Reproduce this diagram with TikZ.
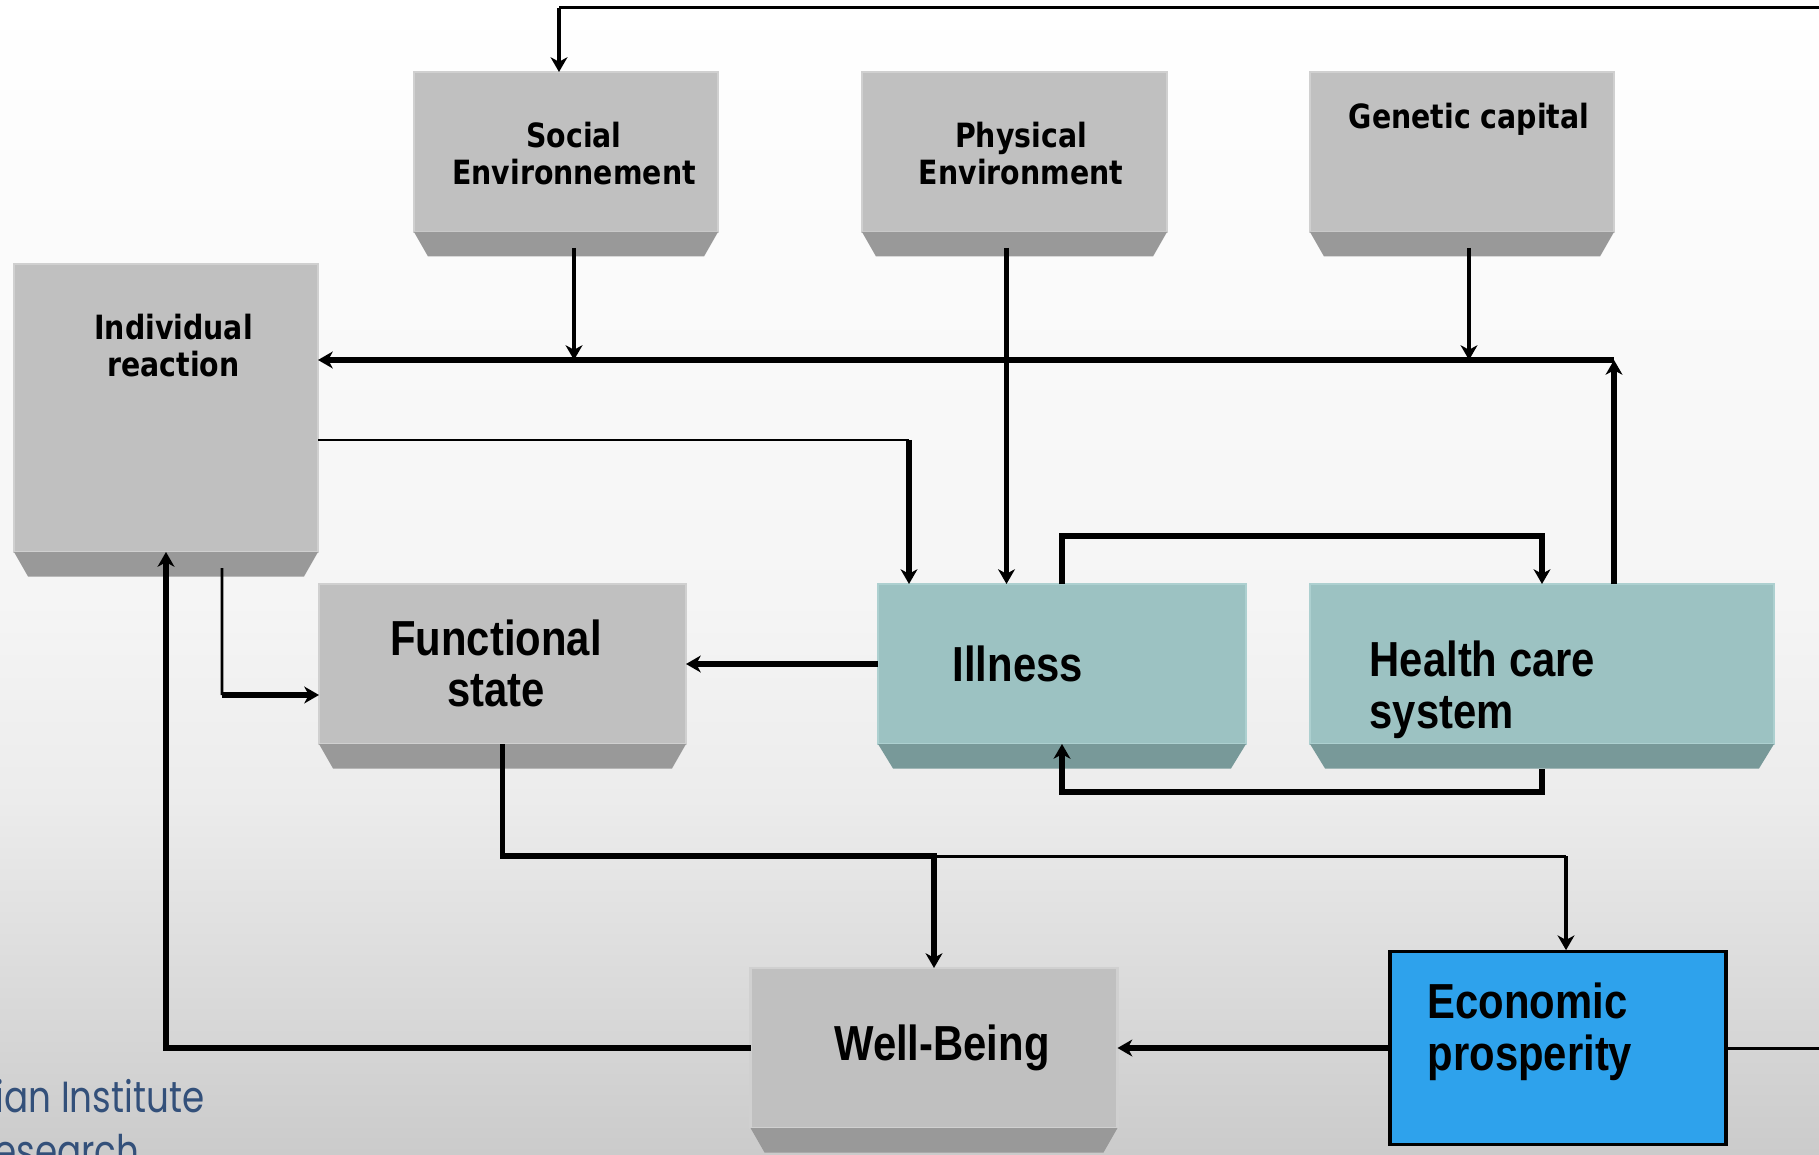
\documentclass[tikz,border=0pt]{standalone}
\usepackage{fontspec}
\newfontfamily\topfont[FakeStretch=0.85]{DejaVu Sans}
\newfontfamily\lowfont[FakeStretch=0.85]{Liberation Sans}
\newfontfamily\markfont[FakeStretch=0.82]{Poppins}
\usetikzlibrary{arrows.meta, positioning}
\definecolor{facegray}{HTML}{C0C0C0}
\definecolor{bevelgray}{HTML}{999999}
\definecolor{edgegray}{HTML}{D0D0D0}
\definecolor{faceteal}{HTML}{9CC2C2}
\definecolor{bevelteal}{HTML}{789999}
\definecolor{edgeteal}{HTML}{ADD0D0}
\definecolor{econblue}{HTML}{2EA2EC}
\definecolor{markblue}{HTML}{33507A}
\definecolor{bgA}{HTML}{F5F5F5}
\definecolor{bgB}{HTML}{ECECEC}
\definecolor{bgbottom}{HTML}{CBCBCB}

\begin{document}
\begin{tikzpicture}[
    slab/.style={draw=edgegray, line width=0.8pt, fill=facegray, minimum width=#1,
                 minimum height=1.6cm, inner sep=0pt, outer sep=0pt},
    tealslab/.style={slab=#1, draw=edgeteal, fill=faceteal},
    toptxt/.style={font={\topfont\bfseries\fontsize{9.5}{10.7}\selectfont}, align=center, inner sep=0pt},
    lowtxt/.style={font={\lowfont\bfseries\fontsize{14}{14.7}\selectfont}, inner sep=0pt},
    wmark/.style={font={\markfont\fontsize{12.4}{14}\selectfont}, text=markblue, inner sep=0pt, anchor=base east},
    arr/.style={-{Stealth[length=4.2pt, width=4.8pt, inset=1.3pt]}},
    thk/.style={line width=1.6pt},
    med/.style={line width=1.4pt},
    thn/.style={line width=0.85pt}
]
    \useasboundingbox (0,0) rectangle (18.19,11.54);
    \shade[top color=white, bottom color=bgA] (0,5.54) rectangle (18.19,11.54);
    \shade[top color=bgA, bottom color=bgB] (0,3.54) rectangle (18.19,5.55);
    \shade[top color=bgB, bottom color=bgbottom] (0,0) rectangle (18.19,3.55);

    % watermark of the slide
    \node[wmark] (markA) at (2.05,0.42) {ian Institute};
    \node[wmark] (markB) at (1.40,-0.12) {esearch};

    % boxes
    \node[slab=3.04cm] (social) at (5.66,10.02) {};
    \node[slab=3.05cm] (physical) at (10.145,10.02) {};
    \node[slab=3.04cm] (genetic) at (14.62,10.02) {};
    \node[slab=3.04cm, minimum height=2.88cm] (indiv) at (1.66,7.46) {};
    \node[slab=3.67cm] (func) at (5.025,4.90) {};
    \node[tealslab=3.68cm] (ill) at (10.62,4.90) {};
    \node[tealslab=4.64cm] (hcs) at (15.42,4.90) {};
    \node[slab=3.67cm] (well) at (9.34,1.06) {};
    \node[draw=black, line width=0.9pt, fill=econblue, minimum width=3.36cm,
          minimum height=1.925cm, inner sep=0pt] (econ) at (15.58,1.06) {};

    % bevels under the boxes
    \foreach \b in {social,physical,genetic,indiv,func,well}
        \fill[bevelgray] (\b.south west) -- (\b.south east) -- ([shift={(-0.14,-0.245)}]\b.south east)
            -- ([shift={(0.14,-0.245)}]\b.south west) -- cycle;
    \foreach \b in {ill,hcs}
        \fill[bevelteal] (\b.south west) -- (\b.south east) -- ([shift={(-0.15,-0.245)}]\b.south east)
            -- ([shift={(0.15,-0.245)}]\b.south west) -- cycle;

    % labels
    \node[toptxt] (socialtxt) at (5.74,10.005) {Social\\Environnement};
    \node[toptxt] (physicaltxt) at (10.21,10.005) {Physical\\Environment};
    \node[toptxt] (genetictxt) at (14.69,10.35) {Genetic capital};
    \node[toptxt] (indivtxt) at (1.735,8.085) {Individual\\reaction};
    \node[lowtxt, align=center] (functxt) at (4.96,4.905) {Functional\\state};
    \node[lowtxt, anchor=west] (illtxt) at (9.52,4.90) {Illness};
    \node[lowtxt, anchor=west, align=left] (hcstxt) at (13.69,4.64) {Health care\\system};
    \node[lowtxt] (welltxt) at (9.42,1.06) {Well-Being};
    \node[lowtxt, anchor=west, align=left] (econtxt) at (14.27,1.22) {Economic\\prosperity};

    \coordinate (busR) at (16.14,7.94);
    \coordinate (loopR) at (19.0,11.46);
    \coordinate (split) at (9.34,2.98);
    \coordinate (illcorner) at (9.09,7.14);
    \coordinate (funccorner) at (2.22,4.59);
    \coordinate (econcorner) at (15.66,2.98);
    \coordinate (socialcorner) at (5.59,11.46);

    % environment -> bus -> individual reaction
    \draw[thk, arr] (busR) -- (indiv.east |- busR);
    \draw[med, arr] ([shift={(0.08,-0.16)}]social.south) -- ([xshift=0.08cm]social.south |- busR);
    \draw[med, arr] ([shift={(-0.08,-0.16)}]physical.south) -- ([xshift=-0.08cm]physical.south |- ill.north);
    \draw[med, arr] ([shift={(0.07,-0.16)}]genetic.south) -- ([xshift=0.07cm]genetic.south |- busR);
    \draw[thk, arr] ([xshift=0.72cm]hcs.north) -- (busR);

    % individual reaction -> illness, functional state
    \draw[thn] ([yshift=-0.32cm]indiv.east) -- (illcorner);
    \draw[thk, arr] (illcorner) -- (illcorner |- ill.north);
    \draw[thn] ([shift={(0.56,-0.16)}]indiv.south) -- (funccorner);
    \draw[thk, arr] (funccorner) -- (func.west |- funccorner);

    % illness <-> health care system
    \draw[thk, arr] (ill.north) -- ++(0,0.48) -| (hcs.north);
    \draw[thk, arr] ([yshift=-0.25cm]hcs.south) -- ++(0,-0.23) -| (ill.south);
    \draw[thk, arr] (ill.west) -- (func.east);

    % functional state -> well-being, economic prosperity
    \draw[thk, arr] (func.south) |- (split) -- (well.north);
    \draw[thn] (split) -- (econcorner);
    \draw[med, arr] (econcorner) -- (econcorner |- econ.north);
    \draw[thk, arr] (econ.west) -- (well.east);
    \draw[thk, arr] (well.west) -| (indiv.south);

    % feedback to social environment
    \draw[thn] (econ.east) -| (loopR) -- (socialcorner);
    \draw[med, arr] (socialcorner) -- (socialcorner |- social.north);
\end{tikzpicture}
\end{document}
